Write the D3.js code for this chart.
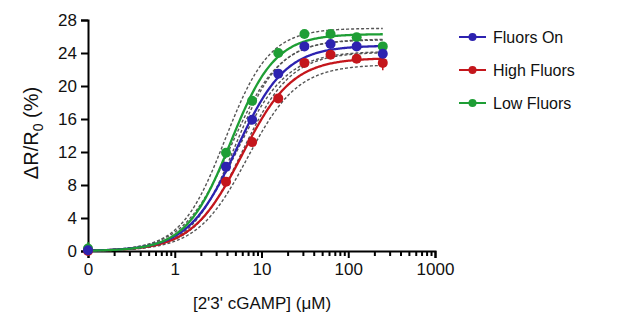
<!DOCTYPE html>
<html>
<head>
<script src="https://d3js.org/d3.v7.min.js"></script>
<style>
  body { margin: 0; background: #fff; }
  text { font-family: "Liberation Sans", Arial, sans-serif; }
</style>
</head>
<body>
<script>
// concentrations in uM (0 is drawn at the left end of the log axis)
var conc = [0, 3.9, 7.8, 15.6, 31.25, 62.5, 125, 250];
var seriesNames = ["Fluors On", "High Fluors", "Low Fluors"];
var seriesColors = ["#2d22b0", "#c4161c", "#1e9e35"];

var fluorsOn   = [0.1, 10.2, 15.9, 21.5, 24.8, 25.1, 24.8, 23.9];
var highFluors = [0.0, 8.4, 13.2, 18.5, 22.8, 23.8, 23.3, 22.8];
var lowFluors  = [0.3, 11.9, 18.2, 24.0, 26.3, 26.3, 25.9, 24.8];

var errOn   = [0.3, 0.3, 0.3, 0.3, 0.3, 0.3, 0.3, 0.4];
var errHigh = [0.2, 0.3, 0.3, 0.3, 0.3, 0.3, 0.3, 0.9];
var errLow  = [0.8, 0.3, 0.3, 0.3, 0.3, 0.3, 0.3, 0.4];

// dose-response fit parameters (top, EC50, hill) and their 95% band limits
var fitTop  = [24.9, 23.4, 26.3];
var fitEC50 = [5.2, 6.0, 4.4];
var fitHill = [1.55, 1.5, 1.7];
var bandTopLo  = [24.1, 22.6, 25.6];
var bandTopHi  = [25.7, 24.2, 27.0];
var bandEC50Lo = [4.5, 5.2, 3.8];
var bandEC50Hi = [6.0, 6.9, 5.0];

var xMajor = [0.1, 1, 10, 100, 1000];
var xTickLabels = ["0", "1", "10", "100", "1000"];
var yTicks = [0, 4, 8, 12, 16, 20, 24, 28];

var values = [fluorsOn, highFluors, lowFluors];
var errors = [errOn, errHigh, errLow];

var svg = d3.select("body").append("svg")
    .attr("width", 621)
    .attr("height", 320);

var x = d3.scaleLog().domain([0.1, 1000]).range([88, 435]);
var y = d3.scaleLinear().domain([0, 28]).range([251, 20]);

function xpos(c) { return x(c === 0 ? 0.1 : c); }

// minor ticks
var xMinor = [];
[0.1, 1, 10, 100].forEach(function(dec) {
    for (var k = 2; k <= 9; k++) xMinor.push(dec * k);
});

svg.append("g")
    .attr("transform", "translate(0,251)")
    .call(d3.axisBottom(x).tickValues(xMinor).tickSize(5).tickFormat(""))
    .call(function(g) { g.select(".domain").remove(); })
    .selectAll("line").attr("stroke", "#000").attr("stroke-width", 2);

var xAxis = svg.append("g")
    .attr("transform", "translate(0,251)")
    .call(d3.axisBottom(x).tickValues(xMajor).tickSizeOuter(0).tickSize(7)
        .tickFormat(function(d, i) { return xTickLabels[i]; }));
xAxis.select(".domain").attr("stroke", "#000").attr("stroke-width", 2);
xAxis.selectAll("line").attr("stroke", "#000").attr("stroke-width", 2);
xAxis.selectAll("text").attr("font-size", 17).attr("fill", "#111").attr("dy", "0.5em").attr("y", 15);

var yAxis = svg.append("g")
    .attr("transform", "translate(88,0)")
    .call(d3.axisLeft(y).tickValues(yTicks).tickSizeOuter(0).tickSize(7));
yAxis.select(".domain").attr("stroke", "#000").attr("stroke-width", 2);
yAxis.selectAll("line").attr("stroke", "#000").attr("stroke-width", 2);
yAxis.selectAll("text").attr("font-size", 17).attr("fill", "#111").attr("x", -11);

// axis titles
var yt = svg.append("text")
    .attr("transform", "translate(38,133) rotate(-90)")
    .attr("text-anchor", "middle")
    .attr("font-size", 20)
    .attr("fill", "#111");
yt.append("tspan").text("\u0394R/R");
yt.append("tspan").attr("font-size", 14).attr("dy", 5).text("0");
yt.append("tspan").attr("dy", -5).text(" (%)");

svg.append("text")
    .attr("x", 262).attr("y", 309)
    .attr("text-anchor", "middle")
    .attr("font-size", 17)
    .attr("fill", "#111")
    .text("[2'3' cGAMP] (\u03bcM)");

// curves
var xs = d3.range(0, 301).map(function(i) { return Math.pow(10, -1 + i * (Math.log10(250) + 1) / 300); });
function hill(top, ec50, h) {
    return function(c) { return top / (1 + Math.pow(ec50 / c, h)); };
}
var line = d3.line()
    .x(function(d) { return x(d[0]); })
    .y(function(d) { return y(d[1]); });

var order = [1, 0, 2];
order.forEach(function(s) {
    var fLo = hill(bandTopLo[s], bandEC50Hi[s], fitHill[s]);
    var fHi = hill(bandTopHi[s], bandEC50Lo[s], fitHill[s]);
    [fLo, fHi].forEach(function(f) {
        svg.append("path")
            .attr("d", line(xs.map(function(c) { return [c, f(c)]; })))
            .attr("fill", "none")
            .attr("stroke", "#555")
            .attr("stroke-width", 1.4)
            .attr("stroke-dasharray", "3,2");
    });
});
order.forEach(function(s) {
    var f = hill(fitTop[s], fitEC50[s], fitHill[s]);
    svg.append("path")
        .attr("d", line(xs.map(function(c) { return [c, f(c)]; })))
        .attr("fill", "none")
        .attr("stroke", seriesColors[s])
        .attr("stroke-width", 2.3);
});

// points with error bars
[2, 1, 0].forEach(function(s) {
    var g = svg.append("g");
    g.selectAll("line.err").data(conc).enter().append("line")
        .attr("x1", function(d) { return xpos(d); })
        .attr("x2", function(d) { return xpos(d); })
        .attr("y1", function(d, i) { return y(values[s][i] - errors[s][i]); })
        .attr("y2", function(d, i) { return y(values[s][i] + errors[s][i]); })
        .attr("stroke", seriesColors[s])
        .attr("stroke-width", 1.5);
    g.selectAll("circle").data(conc).enter().append("circle")
        .attr("cx", function(d) { return xpos(d); })
        .attr("cy", function(d, i) { return y(values[s][i]); })
        .attr("r", 5)
        .attr("fill", seriesColors[s]);
});

// legend
var legend = svg.append("g");
seriesNames.forEach(function(name, i) {
    var ly = 37 + i * 33;
    legend.append("line")
        .attr("x1", 459).attr("x2", 486).attr("y1", ly).attr("y2", ly)
        .attr("stroke", seriesColors[i]).attr("stroke-width", 2);
    legend.append("circle")
        .attr("cx", 472.5).attr("cy", ly).attr("r", 4)
        .attr("fill", seriesColors[i]);
    legend.append("text")
        .attr("x", 493).attr("y", ly + 6)
        .attr("font-size", 16)
        .attr("fill", "#111")
        .text(name);
});
</script>
</body>
</html>
